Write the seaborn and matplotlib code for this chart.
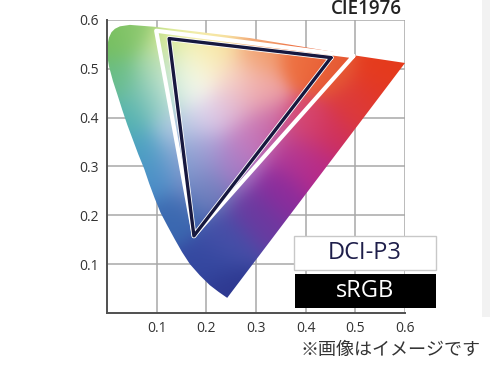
import numpy as np
import matplotlib
matplotlib.use("Agg")
import matplotlib.pyplot as plt
import matplotlib.patheffects as pe
from matplotlib.patches import Polygon, Rectangle
from matplotlib.colors import to_rgb
import seaborn as sns

# spectral locus outline (u', v')
locus_u = [0.242, 0.225, 0.207, 0.187, 0.167, 0.151, 0.137, 0.122, 0.108, 0.096,
           0.085, 0.075, 0.063, 0.052, 0.041, 0.031, 0.021, 0.012, 0.004, 0.0,
           0.001, 0.004, 0.009, 0.016, 0.026, 0.046, 0.097, 0.190, 0.288, 0.395,
           0.495, 0.600]
locus_v = [0.031, 0.043, 0.057, 0.077, 0.100, 0.125, 0.150, 0.178, 0.205, 0.235,
           0.265, 0.295, 0.325, 0.355, 0.385, 0.415, 0.447, 0.475, 0.505, 0.530,
           0.550, 0.564, 0.575, 0.582, 0.587, 0.590, 0.586, 0.575, 0.563, 0.545,
           0.528, 0.512]

# colours sampled at points of the diagram
anchor_u = [0.01, 0.05, 0.02, 0.04, 0.07, 0.10, 0.12, 0.13, 0.17, 0.14,
            0.15, 0.22, 0.25, 0.28, 0.30, 0.40, 0.45, 0.56, 0.50, 0.40,
            0.38, 0.32, 0.45, 0.14, 0.20, 0.24, 0.24, 0.30, 0.35, 0.42,
            0.20, 0.10, 0.60, 0.55, 0.20, 0.20, 0.25, 0.18, 0.30, 0.25,
            0.20, 0.17, 0.14, 0.08]
anchor_v = [0.56, 0.58, 0.48, 0.40, 0.33, 0.28, 0.45, 0.55, 0.465, 0.38,
            0.32, 0.55, 0.42, 0.35, 0.53, 0.52, 0.50, 0.50, 0.42, 0.38,
            0.32, 0.38, 0.36, 0.20, 0.10, 0.04, 0.15, 0.20, 0.25, 0.30,
            0.25, 0.50, 0.51, 0.45, 0.40, 0.33, 0.30, 0.28, 0.45, 0.48,
            0.52, 0.50, 0.48, 0.44]
anchor_col = ["#74be5c", "#8cc870", "#68bd88", "#52b2b0", "#4aa0c2", "#4a8ec8",
              "#b0dcd0", "#e4ee98", "#ffffff", "#b4cce4", "#8aa8d4", "#f6e49a",
              "#e2bcd8", "#c27cc0", "#f2a070", "#ee7040", "#e65a34", "#e63c1c",
              "#dc3a3c", "#d84870", "#b03a98", "#c868a8", "#d03058", "#3a68b0",
              "#3448a0", "#2e3890", "#4550a8", "#6a3aa0", "#8c2c9c", "#b82888",
              "#6878b8", "#a0d4a8", "#e43a1a", "#e23828", "#dcd0ec", "#a8a0d6",
              "#a878c4", "#8094cc", "#f0a8a8", "#f8d8cc", "#fbf0b8", "#f8fadc",
              "#e2f2e0", "#78c0b4"]

# gamut triangles (R, G, B, back to R)
p3_u = [0.496, 0.099, 0.175, 0.496]
p3_v = [0.526, 0.578, 0.158, 0.526]
srgb_u = [0.451, 0.125, 0.175, 0.451]
srgb_v = [0.523, 0.562, 0.158, 0.523]

ticks = [0.1, 0.2, 0.3, 0.4, 0.5, 0.6]
tick_labels = ["0.1", "0.2", "0.3", "0.4", "0.5", "0.6"]

sns.set_style("whitegrid", {"grid.color": "#a8a8a8", "axes.edgecolor": "#505050"})
plt.rcParams["font.family"] = ["Open Sans", "DejaVu Sans"]

fig = plt.figure(figsize=(4.9, 3.68), dpi=100)
ax = fig.add_axes([107 / 490, 1 - 313 / 368, 298 / 490, 293 / 368])

# smooth colour field blended from the sampled colours
n = 400
uu, vv = np.meshgrid(np.linspace(0, 0.6, n), np.linspace(0, 0.6, n))
au = np.array(anchor_u)
av = np.array(anchor_v)
ac = np.array([to_rgb(c) for c in anchor_col])
d2 = (uu[..., None] - au) ** 2 + (vv[..., None] - av) ** 2
w = np.exp(-d2 / (2 * 0.034 ** 2)) + 1e-12
rgb = np.clip((w @ ac) / w.sum(axis=2, keepdims=True), 0, 1)

im = ax.imshow(rgb, origin="lower", extent=(0, 0.6, 0, 0.6), zorder=1,
               interpolation="bilinear", aspect="auto")
shape = Polygon(np.column_stack([locus_u, locus_v]), closed=True,
                transform=ax.transData, facecolor="none", edgecolor="none")
ax.add_patch(shape)
im.set_clip_path(shape)

sns.lineplot(x=p3_u, y=p3_v, sort=False, estimator=None, ax=ax,
             color="white", lw=3, zorder=3)
line = sns.lineplot(x=srgb_u, y=srgb_v, sort=False, estimator=None, ax=ax,
                    color="#17183f", lw=2.4, zorder=4).lines[-1]
line.set_path_effects([pe.Stroke(linewidth=3.6, foreground="white"), pe.Normal()])

ax.set_xlim(0, 0.6)
ax.set_ylim(0, 0.6)
ax.set_xticks(ticks)
ax.set_xticklabels(tick_labels)
ax.set_yticks(ticks)
ax.set_yticklabels(tick_labels)
ax.tick_params(labelsize=10, labelcolor="#333333", length=0, pad=6)
ax.grid(True, lw=1.1)
ax.spines["top"].set_visible(False)
ax.spines["right"].set_visible(False)
for s in ("left", "bottom"):
    ax.spines[s].set_linewidth(1.4)
ax.set_xlabel("")
ax.set_ylabel("")

fig.text(402 / 490, 1 - 9 / 368, "CIE1976", ha="right", va="center",
         fontsize=13.5, fontweight="semibold", color="#222222")

# legend boxes
fig.add_artist(Rectangle((294 / 490, 1 - 270 / 368), 142 / 490, 34 / 368,
                         transform=fig.transFigure, facecolor="white",
                         edgecolor="#c8c8c8", lw=1, zorder=5))
fig.text(365 / 490, 1 - 253 / 368, "DCI-P3", ha="center", va="center",
         fontsize=17, color="#1e1e4a", zorder=6)
fig.add_artist(Rectangle((295 / 490, 1 - 308 / 368), 141 / 490, 34 / 368,
                         transform=fig.transFigure, facecolor="black",
                         edgecolor="none", zorder=5))
fig.text(365 / 490, 1 - 291 / 368, "sRGB", ha="center", va="center",
         fontsize=17, color="white", zorder=6)

fig.add_artist(Rectangle((482 / 490, 1 - 317 / 368), 8 / 490, 317 / 368,
                         transform=fig.transFigure, facecolor="#f2f2f2",
                         edgecolor="none", zorder=0))

fig.text(390 / 490, 1 - 350 / 368, "※画像はイメージです", ha="center", va="center",
         fontsize=13, color="#333333", family=["Noto Sans CJK JP", "DejaVu Sans"])

fig.savefig("out.png", dpi=100)
